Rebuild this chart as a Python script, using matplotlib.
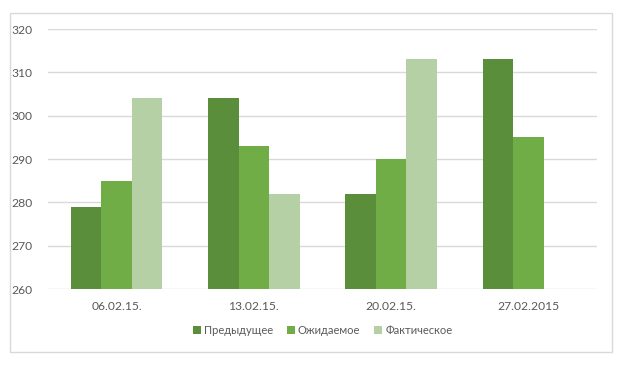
import numpy as np
import matplotlib
matplotlib.use("Agg")
import matplotlib.pyplot as plt
from matplotlib.patches import Rectangle

plt.rcParams['font.family'] = ['Lato', 'DejaVu Sans']

# data
categories = ["06.02.15.", "13.02.15.", "20.02.15.", "27.02.2015"]
series_names = ["Предыдущее", "Ожидаемое", "Фактическое"]
prev_vals = [279, 304, 282, 313]
expected_vals = [285, 293, 290, 295]
actual_vals = [304, 282, 313, np.nan]
colors = ["#5B8E3B", "#70AD47", "#B5D0A5"]

fig = plt.figure(figsize=(6.29, 3.65), dpi=100)
ax = fig.add_axes([48 / 629, 1 - 289 / 365, 549 / 629, 260 / 365])

# chart border
fig.patches.append(Rectangle((10 / 629, 1 - 352 / 365), 602 / 629, 339 / 365,
                             transform=fig.transFigure, fill=False,
                             edgecolor="#D9D9D9", linewidth=1))

x = np.arange(len(categories))
w = 0.222
for i, vals in enumerate([prev_vals, expected_vals, actual_vals]):
    v = np.array(vals, dtype=float)
    ax.bar(x + (i - 1) * w, v - 260, width=w, bottom=260, color=colors[i],
           label=series_names[i], zorder=3)

ax.set_xlim(-0.5, len(categories) - 0.5)
ax.set_ylim(260, 320)
ax.set_yticks(range(260, 321, 10))
ax.set_xticks(x)
ax.set_xticklabels(categories)
ax.grid(axis="y", color="#D9D9D9", linewidth=1, zorder=0)
for s in ax.spines.values():
    s.set_visible(False)
ax.tick_params(axis="both", length=0, labelsize=8.7, labelcolor="#595959")
ax.tick_params(axis="y", pad=11)
ax.tick_params(axis="x", pad=9)

ax.legend(loc="center", bbox_to_anchor=(0.5, -0.16), ncol=3, frameon=False,
          fontsize=8, labelcolor="#595959", handlelength=0.75, handleheight=0.75,
          handletextpad=0.25, columnspacing=1.25)

fig.savefig("out.png", dpi=100)
